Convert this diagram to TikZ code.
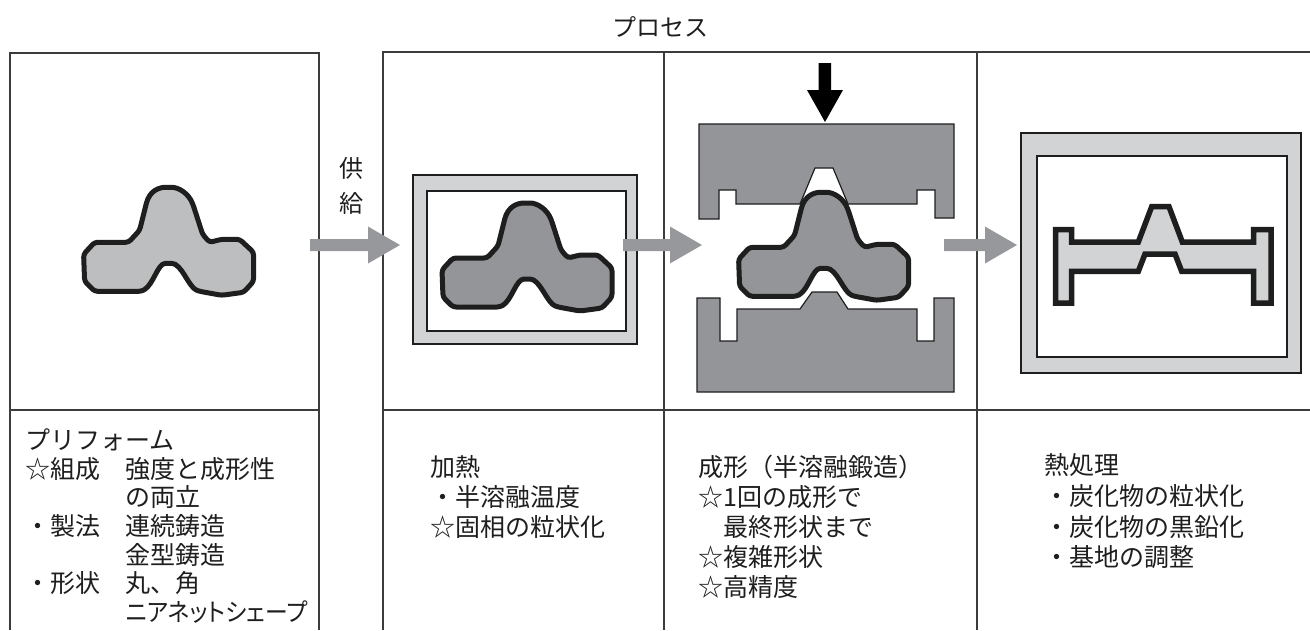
\documentclass[tikz,border=0pt]{standalone}
\usepackage{fontspec}
\setmainfont{Noto Sans CJK JP}
\definecolor{rulegray}{HTML}{3C3C3C}
\definecolor{partlight}{HTML}{BCBEC0}
\definecolor{ringlight}{HTML}{D1D3D4}
\definecolor{diedark}{HTML}{939598}
\definecolor{arrowgray}{HTML}{96989B}
\definecolor{inkblack}{HTML}{1E1E1E}
\begin{document}
\begin{tikzpicture}[x=1pt,y=-1pt,
  rule/.style={draw=rulegray,line width=1.3pt},
  diebody/.style={fill=diedark,draw=inkblack,line width=1.2pt},
  ring/.style={fill=ringlight,draw=inkblack,line width=1.3pt},
  hole/.style={fill=white,draw=inkblack,line width=1.3pt},
  txt/.style={anchor=west,inner sep=0pt,text=inkblack,font=\fontsize{25}{30}\selectfont},
  pics/billet/.style={code={
    \path[pic actions,draw=inkblack,line width=5pt,line join=round,rounded corners=3pt]
      (-74,0) -- (-40,0) -- (-29,-12) -- (-23,-36)
      .. controls (-19,-52) and (-9,-55) .. (0,-55)
      .. controls (10,-55) and (20,-49) .. (25,-36)
      -- (34,-8) -- (41,0) -- (53,-3) -- (71,-3) -- (85,10) -- (85,39) -- (75,50)
      -- (53,53) -- (31,49)
      .. controls (20,45) and (13,21) .. (0,21)
      .. controls (-11,21) and (-15,42) .. (-27,49)
      -- (-74,49) -- (-84,39) -- (-85,12) -- cycle;
  }},
  pics/blockarrow/.style={code={
    \fill[arrowgray] (0,-6) -- (#1-32,-6) -- (#1-32,-18.5) -- (#1,0)
      -- (#1-32,18.5) -- (#1-32,6) -- (0,6) -- cycle;
  }}]
\useasboundingbox (0,0) rectangle (1310,630);

% panel frames
\draw[rule] (10,630) -- (10,53) -- (319,53) -- (319,630);
\draw[rule] (10,410) -- (319,410);
\draw[rule] (383,630) -- (383,52) -- (1310,52);
\draw[rule] (664,52) -- (664,630);
\draw[rule] (977,52) -- (977,630);
\draw[rule] (383,410) -- (1310,410);

% title and supply label
\node[inner sep=0pt,text=inkblack,font=\fontsize{24}{28}\selectfont] (title) at (660,27) {プロセス};
\node[inner sep=0pt,text=inkblack,align=center,font=\fontsize{24}{35}\selectfont] (supply) at (351,186) {供\\給};

% preform
\pic[fill=partlight] at (168.6,242.3) {billet};

% heating
\draw[ring] (413,175) rectangle (637,344);
\draw[hole] (427,191) rectangle (626,331);
\pic[fill=diedark] at (527,258) {billet};

% forming: dies, press arrow and billet
\draw[diebody] (699,124) -- (954,124) -- (954,218) -- (935,218) -- (935,190) -- (917,190)
  -- (917,204) -- (848,204) -- (833,168) -- (815,168) -- (800,204) -- (736,204)
  -- (736,190) -- (719,190) -- (719,219) -- (699,219) -- cycle;
\draw[diebody] (697,298) -- (720,298) -- (720,341) -- (737,341) -- (737,309) -- (800,309)
  -- (812,292) -- (837,292) -- (848,309) -- (917,309) -- (917,341) -- (934,341)
  -- (934,298) -- (954,298) -- (954,392) -- (697,392) -- cycle;
\fill[black] (818.5,63) -- (831,63) -- (831,90) -- (843,90) -- (825,122) -- (807,90)
  -- (818.5,90) -- cycle;
\pic[fill=diedark] at (823.6,247.3) {billet};

% heat treatment
\draw[ring] (1021,133) rectangle (1301,373);
\draw[hole] (1037,156) rectangle (1287,357);
\draw[fill=ringlight,draw=inkblack,line width=5.5pt,line join=miter]
  (1055.7,229.7) -- (1071.7,229.7) -- (1071.7,242) -- (1138.3,242) -- (1151.7,206.7)
  -- (1169,206.7) -- (1182.3,242) -- (1253.7,242) -- (1253.7,229.7) -- (1271,229.7)
  -- (1271,303) -- (1253.7,303) -- (1253.7,271.3) -- (1181.7,271.3) -- (1175,254)
  -- (1145,254) -- (1138.3,271.3) -- (1071.7,271.3) -- (1071.7,303) -- (1055.7,303) -- cycle;

% process arrows
\pic at (310,245) {blockarrow=90};
\pic at (623,245) {blockarrow=79};
\pic at (944,245) {blockarrow=73};

% preform notes
\node[txt] (pf1) at (25,440) {プリフォーム};
\node[txt] (pf2) at (25,469) {☆組成　強度と成形性};
\node[txt] (pf3) at (25,497.5) {　　　　の両立};
\node[txt] (pf4) at (25,526) {・製法　連続鋳造};
\node[txt] (pf5) at (25,555) {　　　　金型鋳造};
\node[txt] (pf6) at (25,583.5) {・形状　丸、角};
\node[txt] (pf7) at (126,612) {\scalebox{0.91}[1]{\addfontfeature{RawFeature=+palt}ニアネットシェープ}};

% heating notes
\node[txt] (ht1) at (430,467) {加熱};
\node[txt] (ht2) at (430,497) {・半溶融温度};
\node[txt] (ht3) at (430,527) {☆固相の粒状化};

% forming notes
\node[txt] (fm1) at (698,467) {成形（半溶融鍛造）};
\node[txt] (fm2) at (698,497) {☆1回の成形で};
\node[txt] (fm3) at (698,527) {　最終形状まで};
\node[txt] (fm4) at (698,557) {☆複雑形状};
\node[txt] (fm5) at (698,587) {☆高精度};

% heat treatment notes
\node[txt] (tr1) at (1044,465) {熱処理};
\node[txt] (tr2) at (1044,496) {・炭化物の粒状化};
\node[txt] (tr3) at (1044,527) {・炭化物の黒鉛化};
\node[txt] (tr4) at (1044,557) {・基地の調整};
\end{tikzpicture}
\end{document}
